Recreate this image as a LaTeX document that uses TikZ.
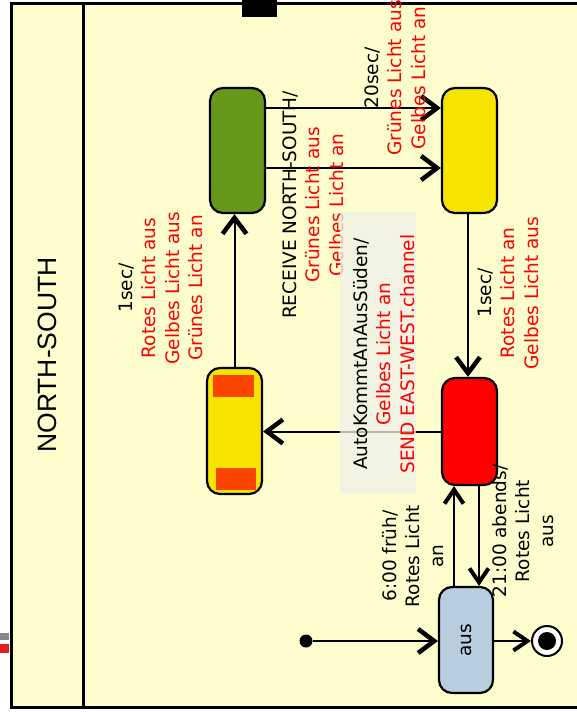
\documentclass[tikz,border=0pt]{standalone}
\usepackage{fontspec}
\newfontfamily\lblfont{DejaVu Sans}
\newfontfamily\titlefont{Liberation Sans}
\usetikzlibrary{arrows.meta}
\definecolor{lanebg}{HTML}{FEFDCE}
\definecolor{greenst}{HTML}{66991A}
\definecolor{yellowst}{HTML}{F5E300}
\definecolor{redst}{HTML}{FF0000}
\definecolor{lamp}{HTML}{FA4400}
\definecolor{offst}{HTML}{B8CEDF}
\definecolor{actred}{HTML}{FF0000}
\definecolor{notebg}{HTML}{F0F0EC}
\definecolor{markgrey}{HTML}{888888}
\definecolor{markred}{HTML}{E02020}
\newcommand\actn[1]{\textcolor{actred}{#1}}
\begin{document}
\begin{tikzpicture}[x=1pt,y=-1pt,
  lightstate/.style={draw, line width=2.2pt, rounded corners=13pt, inner sep=0pt},
  conn/.style={line width=2pt, -{Straight Barb[length=16pt,width=24pt,line width=4.5pt]}},
  connsmall/.style={line width=2pt, -{Straight Barb[length=14pt,width=19pt,line width=4pt]}},
  lbl/.style={rotate=90, align=center, inner sep=0pt,
    font=\lblfont\fontsize{18.5}{23.5}\selectfont},
  frameline/.style={line width=3pt}]
\useasboundingbox (0,0) rectangle (577,712);

% swimlane background and frame
\fill[lanebg] (11,3) rectangle (577,707);
\fill[markgrey] (0,633) rectangle (9,640);
\fill[markred] (0,644) rectangle (9,653);
\draw[frameline] (577,3) -- (11,3) -- (11,707) -- (577,707);
\draw[frameline] (83,3) -- (83,707);
\fill[black] (242,0) rectangle (277,17);
\node[rotate=90, inner sep=0pt, font=\titlefont\fontsize{26.5}{30}\selectfont] (lane) at (47,355) {NORTH-SOUTH};

% states
\node[lightstate, fill=greenst, minimum width=55pt, minimum height=125pt] (green) at (237.5,150.5) {};
\node[lightstate, fill=yellowst, minimum width=55pt, minimum height=125pt] (yellow) at (469.5,150.5) {};
\node[lightstate, fill=redst, minimum width=55pt, minimum height=107pt] (red) at (469.5,431.5) {};
\node[lightstate, fill=yellowst, minimum width=55pt, minimum height=126pt] (blink) at (234.5,431) {};
\fill[lamp] (213,375) rectangle (254,397);
\fill[lamp] (216,468) rectangle (256,490);
\node[lightstate, fill=offst, minimum width=54pt, minimum height=106pt] (off) at (466,640) {};
\node[lbl] (offtext) at (off) {aus};

% pseudo states
\node[circle, fill=black, minimum size=13pt, inner sep=0pt] (init) at (306,641) {};
\node[circle, draw, line width=2pt, fill=white, minimum size=30pt, inner sep=0pt] (final) at (547,641) {};
\fill[black] (final.center) circle (9);

% transitions
\draw[conn] ([yshift=42.5pt]green.east) -- ([yshift=42.5pt]yellow.west);
\draw[conn] ([yshift=-17.5pt]green.east) -- ([yshift=-17.5pt]yellow.west);
\draw[conn] ([xshift=-1.5pt]yellow.south) -- ([xshift=-1.5pt]red.north);
\draw[conn] (red.west) -- (red.west -| blink.east);
\draw[conn] (blink.north) -- (blink.north |- green.south);
\draw[connsmall] ([xshift=-12pt]off.north) -- ([xshift=-15.5pt]red.south);
\draw[connsmall] ([xshift=9.5pt]red.south) -- ([xshift=13pt]off.north);
\draw[conn] (init) -- (off.west |- init);
\draw[connsmall] (off.east |- final) -- (final.west);

% transition labels
\node[lbl] (t1) at (161,288) {1sec/\\\actn{Rotes Licht aus}\\\actn{Gelbes Licht aus}\\\actn{Grünes Licht an}};
\node[lbl] (t2) at (313,205) {RECEIVE NORTH-SOUTH/\\\actn{Grünes Licht aus}\\\actn{Gelbes Licht an}};
\node[lbl] (t3) at (395,78) {20sec/\\\actn{Grünes Licht aus}\\\actn{Gelbes Licht an}};
\node[lbl] (t4) at (508,293) {1sec/\\\actn{Rotes Licht an}\\\actn{Gelbes Licht aus}};
\node[fill=notebg, fill opacity=0.75, minimum width=76pt, minimum height=282pt, inner sep=0pt] (notebox) at (378,353) {};
\node[lbl] (t5) at (384,354) {AutoKommtAnAusSüden/\\\actn{Gelbes Licht an}\\\actn{SEND EAST-WEST.channel}};
\node[lbl] (t6) at (413,556) {6:00 früh/\\Rotes Licht\\an};
\node[lbl] (t7) at (523,531) {21:00 abends/\\Rotes Licht\\aus};
\end{tikzpicture}
\end{document}
